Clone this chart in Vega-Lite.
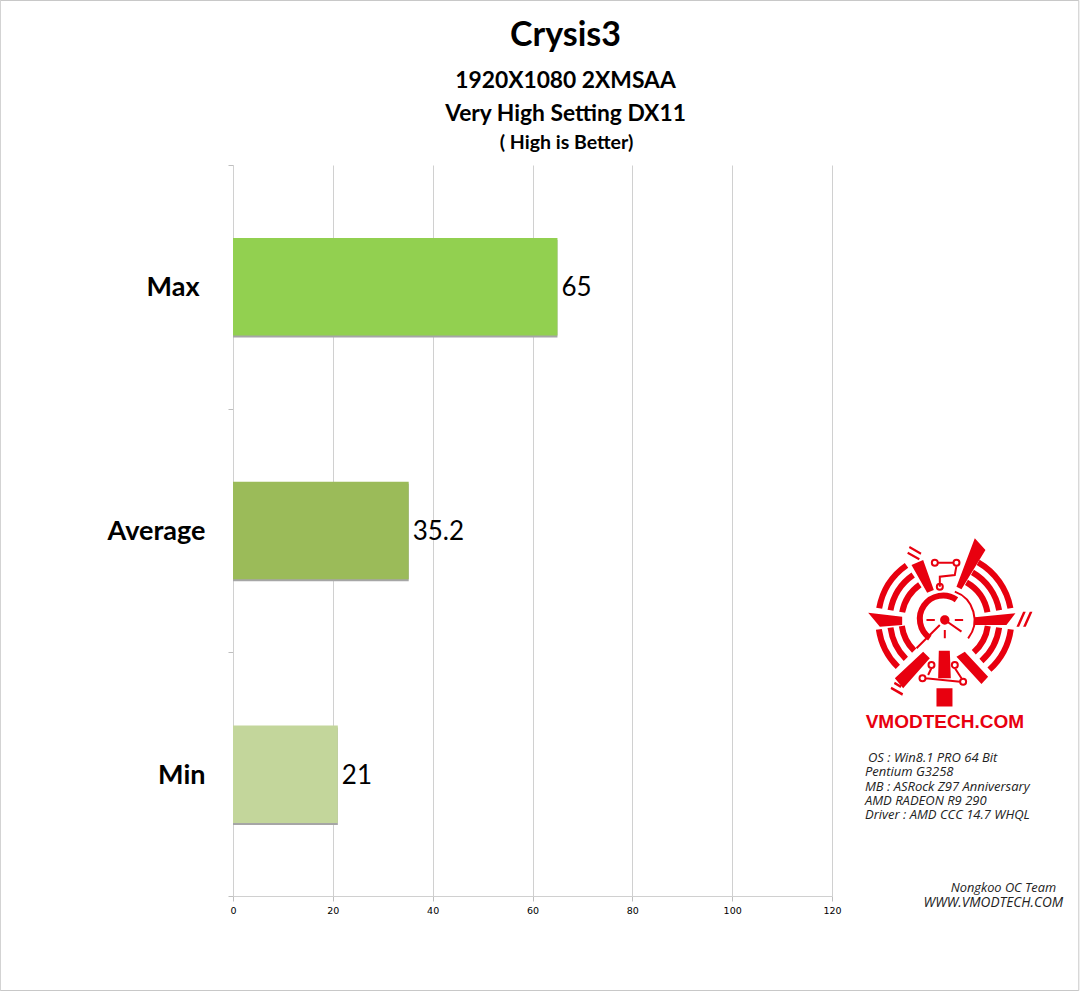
{
  "$schema": "https://vega.github.io/schema/vega-lite/v5.json",
  "autosize": "none",
  "padding": {"left": 233, "top": 165, "right": 248, "bottom": 95},
  "width": 599,
  "height": 731,
  "background": "white",
  "title": {
    "text": "Crysis3",
    "subtitle": ["1920X1080 2XMSAA", "Very High Setting DX11"],
    "anchor": "middle",
    "frame": "group",
    "dx": 33,
    "offset": -127,
    "font": "Lato",
    "fontSize": 34,
    "fontWeight": "bold",
    "color": "black",
    "subtitleFont": "Lato",
    "subtitleFontSize": 22.8,
    "subtitleFontWeight": "bold",
    "subtitleColor": "black",
    "subtitleLineHeight": 33,
    "subtitlePadding": 17
  },
  "data": {
    "values": [
      {"stat": "Max", "fps": 65},
      {"stat": "Average", "fps": 35.2},
      {"stat": "Min", "fps": 21}
    ]
  },
  "layer": [
    {
      "mark": {"type": "bar", "color": "#a6a6a6", "yOffset": 2, "height": {"band": 0.4}},
      "encoding": {
        "x": {
          "field": "fps",
          "type": "quantitative",
          "scale": {"domain": [0, 120], "nice": false},
          "axis": {
            "values": [0, 20, 40, 60, 80, 100, 120],
            "title": null,
            "grid": true,
            "gridColor": "#d0d0d0",
            "gridWidth": 1,
            "domainColor": "#d0d0d0",
            "tickColor": "#bfbfbf",
            "tickSize": 5,
            "labelFlush": false,
            "labelFont": "DejaVu Sans",
            "labelFontSize": 9.5,
            "labelColor": "black",
            "labelPadding": 4
          }
        },
        "y": {
          "field": "stat",
          "type": "nominal",
          "sort": null,
          "scale": {"paddingInner": 0, "paddingOuter": 0},
          "axis": {
            "title": null,
            "tickBand": "extent",
            "domainColor": "#d0d0d0",
            "tickColor": "#bfbfbf",
            "tickSize": 5,
            "labelFont": "Lato",
            "labelFontSize": 27,
            "labelFontWeight": "bold",
            "labelColor": "black",
            "labelPadding": 23,
            "labelOffset": 1,
            "encoding": {"labels": {"dx": {"condition": {"test": "datum.label === 'Max'", "value": -6}, "value": 0}}}
          }
        }
      }
    },
    {
      "mark": {"type": "bar", "height": {"band": 0.4}},
      "encoding": {
        "x": {"field": "fps", "type": "quantitative", "axis": null},
        "y": {"field": "stat", "type": "nominal", "sort": null},
        "color": {
          "field": "stat",
          "type": "nominal",
          "legend": null,
          "scale": {
            "domain": ["Max", "Average", "Min"],
            "range": ["#92d050", "#9bbb59", "#c3d69b"]
          }
        }
      }
    },
    {
      "mark": {"type": "text", "align": "left", "dx": 4, "dy": 1.5, "font": "Lato", "fontSize": 26, "color": "black"},
      "encoding": {
        "x": {
          "field": "fps",
          "type": "quantitative",
          "axis": {
            "orient": "top",
            "title": "( High is Better)",
            "titleFont": "Lato",
            "titleFontSize": 19.5,
            "titleFontWeight": "bold",
            "titleColor": "black",
            "titleX": 333,
            "titleY": -13,
            "labels": false,
            "ticks": false,
            "domain": false,
            "grid": false
          }
        },
        "y": {"field": "stat", "type": "nominal", "sort": null},
        "text": {"field": "fps", "type": "quantitative"}
      }
    },
    {
      "data": {"values": [{"line": "OS : Win8.1 PRO 64 Bit"}]},
      "mark": {"type": "text", "align": "left", "baseline": "middle", "dy": -16, "font": "Open Sans", "fontStyle": "italic", "fontSize": 13, "color": "#222222"},
      "encoding": {
        "x": {"datum": 127.2, "axis": null},
        "y": {"datum": "Min"},
        "text": {"field": "line"}
      }
    },
    {
      "data": {
        "values": [
          {"lines": ["Pentium G3258", "MB : ASRock Z97 Anniversary", "AMD RADEON R9 290", "Driver : AMD CCC 14.7 WHQL"]}
        ]
      },
      "mark": {"type": "text", "align": "left", "baseline": "middle", "dy": -2, "font": "Open Sans", "fontStyle": "italic", "fontSize": 13, "lineHeight": 14.4, "color": "#222222"},
      "encoding": {
        "x": {"datum": 126.6, "axis": null},
        "y": {"datum": "Min"},
        "text": {"field": "lines"}
      }
    },
    {
      "data": {"values": [{"line": "Nongkoo OC Team"}]},
      "mark": {"type": "text", "align": "right", "baseline": "middle", "dy": 114, "font": "Open Sans", "fontStyle": "italic", "fontSize": 12.8, "color": "#222222"},
      "encoding": {
        "x": {"datum": 164.9, "axis": null},
        "y": {"datum": "Min"},
        "text": {"field": "line"}
      }
    },
    {
      "data": {"values": [{"line": "WWW.VMODTECH.COM"}]},
      "mark": {"type": "text", "align": "right", "baseline": "middle", "dy": 129, "font": "Open Sans", "fontStyle": "italic", "fontSize": 13.6, "color": "#222222"},
      "encoding": {
        "x": {"datum": 166.3, "axis": null},
        "y": {"datum": "Min"},
        "text": {"field": "line"}
      }
    },
    {
      "data": {"values": [{"brand": "VMODTECH.COM"}]},
      "mark": {"type": "text", "align": "center", "baseline": "middle", "dy": 191, "font": "Liberation Sans", "fontWeight": "bold", "fontSize": 19, "color": "#e8000f"},
      "encoding": {
        "x": {"datum": 142.6, "axis": null},
        "y": {"datum": "Average"},
        "text": {"field": "brand"}
      }
    },
    {
      "data": {"values": [{"logo": "emblem"}]},
      "mark": {
        "type": "point",
        "filled": true,
        "color": "#e8000f",
        "opacity": 1,
        "size": 0.444,
        "yOffset": 89.5,
        "shape": "M90,-245L122,-210L50,-92L35,-100ZM-100,-165L-65,-180L-33,-90L-53,-82ZM-230,-22L-128,-10L-128,15L-195,20ZM90,-8L212,-20L185,15L90,15ZM-18,92L15,92L18,175L-20,175ZM-25,205L23,205L23,260L-25,260ZM-65,95L-45,115L-125,205L-150,175ZM60,95L130,170L110,192L35,110ZM-105,-222L-70,-202L-73,-196L-108,-216ZM-110,-205L-75,-185L-78,-179L-113,-199ZM215,20L235,-25L243,-25L223,20ZM235,20L255,-25L263,-25L243,20ZM-160,200L-125,220L-128,227L-163,207ZM-150,185L-130,197L-133,204L-153,192ZM-14,0A14,14 0 1 1 14,0A14,14 0 1 1 -14,0Z"
      },
      "encoding": {
        "x": {"datum": 142.6, "axis": null},
        "y": {"datum": "Average"}
      }
    },
    {
      "data": {"values": [{"logo": "emblem arcs"}]},
      "mark": {
        "type": "point",
        "filled": false,
        "color": "#e8000f",
        "opacity": 1,
        "size": 0.444,
        "strokeWidth": 6,
        "yOffset": 89.5,
        "shape": "M-197,-35A200,200 0 0 1 -115,-164M100,-173A200,200 0 0 1 197,-35M198,28A200,200 0 0 1 134,149M-141,141A200,200 0 0 1 -198,28M-163,-29A165,165 0 0 1 -95,-135M83,-143A165,165 0 0 1 163,-29M163,23A165,165 0 0 1 110,123M-117,117A165,165 0 0 1 -163,23M-128,-23A130,130 0 0 1 -75,-106M65,-113A130,130 0 0 1 128,-23M129,18A130,130 0 0 1 87,97M-92,92A130,130 0 0 1 -129,18M-45,54A70,70 0 1 1 35,-61"
      },
      "encoding": {
        "x": {"datum": 142.6, "axis": null},
        "y": {"datum": "Average"}
      }
    },
    {
      "data": {"values": [{"logo": "emblem circuit"}]},
      "mark": {
        "type": "point",
        "filled": false,
        "color": "#e8000f",
        "opacity": 1,
        "size": 0.444,
        "strokeWidth": 2,
        "yOffset": 89.5,
        "shape": "M-21,-172A9,9 0 1 1 -39,-172A9,9 0 1 1 -21,-172M44,-172A9,9 0 1 1 26,-172A9,9 0 1 1 44,-172M-21,-172L26,-172M35,-163L30,-135L-15,-130L-15,-100M-6,-100A9,9 0 1 1 -24,-100A9,9 0 1 1 -6,-100M-58,175A9,9 0 1 1 -76,175A9,9 0 1 1 -58,175M64,185A9,9 0 1 1 46,185A9,9 0 1 1 64,185M-58,175L46,185M-31,135A9,9 0 1 1 -49,135A9,9 0 1 1 -31,135M39,135A9,9 0 1 1 21,135A9,9 0 1 1 39,135M-40,144L-50,165M30,144L50,175M-55,0L-30,0M30,0L55,0M0,30L0,55M0,0L50,35M-15,15L-85,85M30,-85A90,90 0 0 1 70,55"
      },
      "encoding": {
        "x": {"datum": 142.6, "axis": null},
        "y": {"datum": "Average"}
      }
    },
    {
      "data": {"values": [{"logo": "page border"}]},
      "mark": {
        "type": "point",
        "filled": false,
        "color": "#c8c8c8",
        "opacity": 1,
        "size": 4,
        "strokeWidth": 1,
        "shape": "M-944.5,-530L134,-530L134,460L-944.5,460Z"
      },
      "encoding": {
        "x": {"datum": 142.6, "axis": null},
        "y": {"datum": "Average"}
      }
    }
  ],
  "resolve": {"axis": {"x": "independent"}},
  "config": {"view": {"stroke": null}}
}
